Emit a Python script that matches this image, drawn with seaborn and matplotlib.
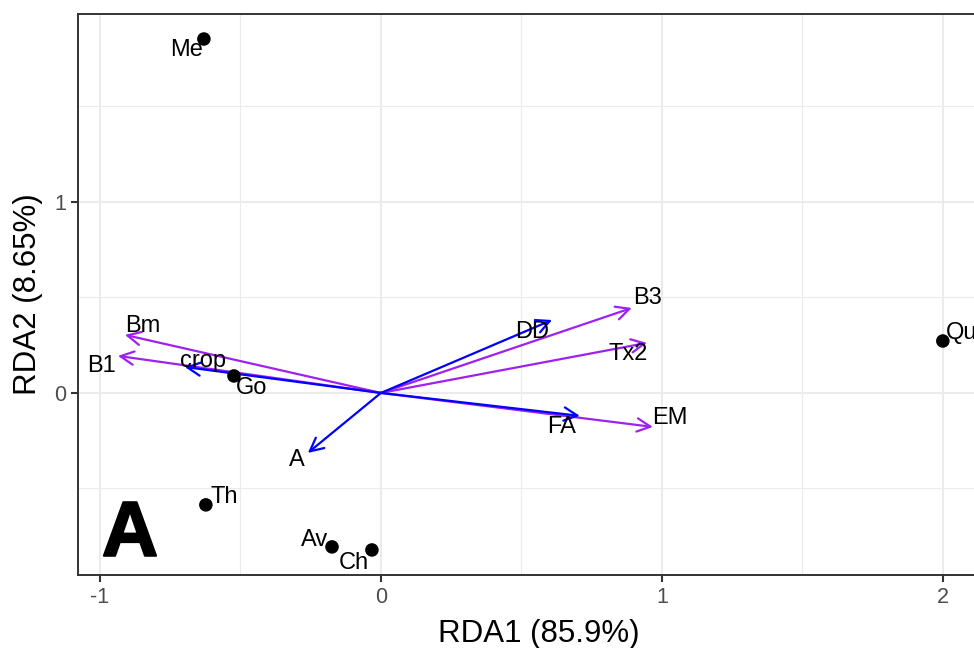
import matplotlib
matplotlib.use("Agg")
import matplotlib.pyplot as plt
import matplotlib.patheffects as pe
import seaborn as sns
import pandas as pd

# Sitios (puntos)
sitios = ["Me", "Go", "Th", "Av", "Ch", "Qu"]
sitio_x = [-0.630, -0.523, -0.623, -0.174, -0.032, 2.000]
sitio_y = [1.853, 0.089, -0.586, -0.806, -0.822, 0.272]
sitio_lab_x = [-0.690, -0.459, -0.559, -0.235, -0.096, 2.010]
sitio_lab_y = [1.796, 0.026, -0.545, -0.770, -0.890, 0.314]
sitio_ha = ["center", "center", "center", "center", "center", "left"]

# Variables (flechas)
variables = ["Bm", "B1", "B3", "Tx2", "EM", "crop", "A", "DD", "FA"]
var_x = [-0.911, -0.936, 0.893, 0.947, 0.968, -0.698, -0.260, 0.609, 0.708]
var_y = [0.304, 0.194, 0.445, 0.262, -0.178, 0.136, -0.314, 0.382, -0.120]
var_color = ["#A020F0"] * 5 + ["#0000FF"] * 4
var_lab_x = [-0.847, -0.993, 0.950, 0.879, 1.028, -0.633, -0.299, 0.537, 0.644]
var_lab_y = [0.351, 0.141, 0.497, 0.204, -0.131, 0.168, -0.351, 0.319, -0.178]

df = pd.DataFrame({"RDA1": sitio_x, "RDA2": sitio_y, "sitio": sitios})

sns.set_theme(style="white")
plt.rcParams["font.family"] = ["Liberation Sans", "DejaVu Sans"]
plt.rcParams["axes.unicode_minus"] = False

fig = plt.figure(figsize=(9.74, 6.48), dpi=100)
# el panel sigue más allá del borde derecho, como en la original
ax = fig.add_axes([0.0801, 0.1127, 0.9456, 0.8657])

ax.set_xlim(-1.078, 2.2)
ax.set_ylim(-0.953, 1.984)

# Rejilla estilo theme_bw
ax.set_xticks([-1, 0, 1, 2])
ax.set_yticks([0, 1])
ax.set_xticks([-0.5, 0.5, 1.5], minor=True)
ax.set_yticks([-0.5, 0.5, 1.5], minor=True)
ax.grid(True, which="major", color="#EBEBEB", linewidth=1.5, zorder=0)
ax.grid(True, which="minor", color="#EBEBEB", linewidth=0.8, zorder=0)
ax.set_axisbelow(True)

# Flechas
for i, v in enumerate(variables):
    ax.annotate("", xy=(var_x[i], var_y[i]), xytext=(0, 0),
                arrowprops=dict(arrowstyle="->,head_length=0.8,head_width=0.4",
                                color=var_color[i], lw=1.6,
                                shrinkA=0, shrinkB=0), zorder=3)
    ax.text(var_lab_x[i], var_lab_y[i], v, ha="center", va="center",
            fontsize=17, color="black", zorder=4)

# Puntos
sns.scatterplot(data=df, x="RDA1", y="RDA2", color="black", s=95,
                edgecolor="none", ax=ax, zorder=5, legend=False)
for i, s in enumerate(sitios):
    ax.text(sitio_lab_x[i], sitio_lab_y[i], s, ha=sitio_ha[i], va="center",
            fontsize=17, color="black", zorder=6)

# Letra del panel
ax.text(-0.893, -0.745, "A", ha="center", va="center", fontsize=56,
        fontweight="bold", color="black", zorder=6,
        path_effects=[pe.withStroke(linewidth=1.5, foreground="black")])

ax.set_xlabel("RDA1 (85.9%)", fontsize=22.5, color="black", labelpad=8)
ax.set_ylabel("RDA2 (8.65%)", fontsize=22.5, color="black", labelpad=8)

ax.tick_params(axis="both", which="major", labelsize=15.5, labelcolor="#4D4D4D",
               color="#333333", length=5, width=1.5, left=True, bottom=True)
ax.tick_params(axis="both", which="minor", length=0)

for sp in ax.spines.values():
    sp.set_color("#333333")
    sp.set_linewidth(1.4)

fig.savefig("out.png", dpi=100)
plt.close()
